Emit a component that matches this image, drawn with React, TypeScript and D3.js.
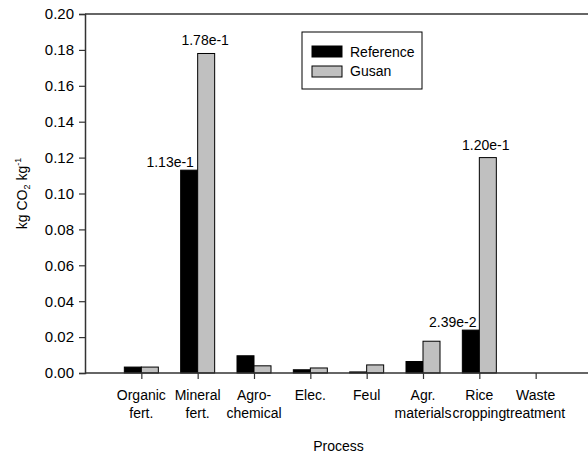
import React, { useEffect, useRef } from 'react';
import * as d3 from 'd3';

// data
const categories = ['Organic fert.', 'Mineral fert.', 'Agro-chemical', 'Elec.', 'Feul', 'Agr. materials', 'Rice cropping', 'Waste treatment'];
const categoryLines = [['Organic', 'fert.'], ['Mineral', 'fert.'], ['Agro-', 'chemical'], ['Elec.'], ['Feul'], ['Agr.', 'materials'], ['Rice', 'cropping'], ['Waste', 'treatment']];
const seriesNames = ['Reference', 'Gusan'];
const referenceValues = [0.0033, 0.113, 0.0096, 0.0018, 0.0006, 0.0064, 0.0239, 0];
const gusanValues = [0.0033, 0.178, 0.0040, 0.0028, 0.0045, 0.0177, 0.120, 0];
const yTicks = [0, 0.02, 0.04, 0.06, 0.08, 0.1, 0.12, 0.14, 0.16, 0.18, 0.2];
const barLabels = [
  { category: 'Mineral fert.', series: 'Reference', text: '1.13e-1' },
  { category: 'Mineral fert.', series: 'Gusan', text: '1.78e-1' },
  { category: 'Rice cropping', series: 'Reference', text: '2.39e-2' },
  { category: 'Rice cropping', series: 'Gusan', text: '1.20e-1' },
];
// label shifts so the black bar labels clear the grey bars
const labelShift = [-19, -1, -18, -2];

const W = 588;
const H = 457;
const FONT = '"Liberation Sans", Arial, sans-serif';

export default function App() {
  const ref = useRef<SVGSVGElement>(null);

  useEffect(() => {
    const svg = d3.select(ref.current);
    svg.selectAll('*').remove();

    const left = 85;
    const top = 14;
    const bottom = 373;
    const right = 592;
    const step = (right - left) / 9;

    const y = d3.scaleLinear().domain([0, 0.2]).range([bottom, top]);
    const x = d3.scalePoint<string>().domain(categories).range([left + step, left + step * 8]);
    const sub = d3.scaleBand<string>().domain(seriesNames).range([-17, 17]);
    const colors = d3.scaleOrdinal<string, string>().domain(seriesNames).range(['#000000', '#c0c0c0']);
    const values: Record<string, number[]> = { Reference: referenceValues, Gusan: gusanValues };

    // bars
    seriesNames.forEach((s) => {
      svg.append('g')
        .selectAll('rect')
        .data(categories)
        .enter()
        .append('rect')
        .attr('x', (c) => (x(c) as number) + (sub(s) as number))
        .attr('y', (c, i) => y(values[s][i]))
        .attr('width', sub.bandwidth())
        .attr('height', (c, i) => bottom - y(values[s][i]))
        .attr('fill', colors(s))
        .attr('stroke', '#000')
        .attr('stroke-width', 1);
    });

    // frame lines
    const axisColor = '#333';
    svg.append('line').attr('x1', left).attr('x2', right).attr('y1', top).attr('y2', top)
      .attr('stroke', axisColor).attr('stroke-width', 1.5);

    // y axis
    const yAxis = svg.append('g')
      .attr('transform', `translate(${left},0)`)
      .call(d3.axisLeft(y).tickValues(yTicks).tickSize(6).tickPadding(5).tickFormat(d3.format('.2f')));
    yAxis.select('.domain').attr('stroke', axisColor).attr('stroke-width', 1.5);
    yAxis.selectAll('.tick line').attr('stroke', axisColor).attr('stroke-width', 1.2);
    yAxis.selectAll('.tick text').attr('font-family', FONT).attr('font-size', 15).attr('fill', '#000');

    // x axis
    const xAxis = svg.append('g')
      .attr('transform', `translate(0,${bottom})`)
      .call(d3.axisBottom(x).tickSize(6).tickFormat(() => ''));
    xAxis.select('.domain').attr('d', `M${left},0H${right}`).attr('stroke', axisColor).attr('stroke-width', 1.5);
    xAxis.selectAll('.tick line').attr('stroke', axisColor).attr('stroke-width', 1.2);

    // category labels
    const catG = svg.append('g').attr('font-family', FONT).attr('font-size', 14).attr('text-anchor', 'middle');
    categories.forEach((c, i) => {
      const t = catG.append('text').attr('x', x(c) as number).attr('y', 400);
      categoryLines[i].forEach((line, j) => {
        t.append('tspan').attr('x', x(c) as number).attr('dy', j === 0 ? 0 : 18).text(line);
      });
    });

    // bar value labels
    const lblG = svg.append('g').attr('font-family', FONT).attr('font-size', 14).attr('text-anchor', 'middle');
    barLabels.forEach((b, k) => {
      const i = categories.indexOf(b.category);
      const cx = (x(b.category) as number) + (sub(b.series) as number) + sub.bandwidth() / 2 + labelShift[k];
      lblG.append('text')
        .attr('x', cx)
        .attr('y', y(values[b.series][i]) - (b.series === 'Reference' ? 3 : 8))
        .text(b.text);
    });

    // axis titles
    svg.append('text')
      .attr('x', (left + right) / 2)
      .attr('y', 451)
      .attr('text-anchor', 'middle')
      .attr('font-family', FONT)
      .attr('font-size', 14)
      .text('Process');

    const yt = svg.append('text')
      .attr('transform', `translate(27,${(top + bottom) / 2}) rotate(-90)`)
      .attr('text-anchor', 'middle')
      .attr('font-family', FONT)
      .attr('font-size', 14);
    yt.append('tspan').text('kg CO');
    yt.append('tspan').attr('font-size', 9).attr('dy', 3).text('2');
    yt.append('tspan').attr('dy', -3).text(' kg');
    yt.append('tspan').attr('font-size', 9).attr('dy', -6).text('-1');

    // legend
    const lg = svg.append('g').attr('transform', 'translate(302,32)');
    lg.append('rect').attr('width', 120).attr('height', 57).attr('fill', '#fff').attr('stroke', '#000').attr('stroke-width', 1);
    seriesNames.forEach((s, i) => {
      lg.append('rect')
        .attr('x', 10).attr('y', 14 + i * 20)
        .attr('width', 30).attr('height', 11)
        .attr('fill', colors(s)).attr('stroke', '#000').attr('stroke-width', 1);
      lg.append('text')
        .attr('x', 48).attr('y', 25 + i * 19)
        .attr('font-family', FONT).attr('font-size', 14)
        .text(s);
    });
  }, []);

  return (
    <svg
      ref={ref}
      width={W}
      height={H}
      style={{ position: 'absolute', left: 0, top: 0, background: '#fff' }}
    />
  );
}
